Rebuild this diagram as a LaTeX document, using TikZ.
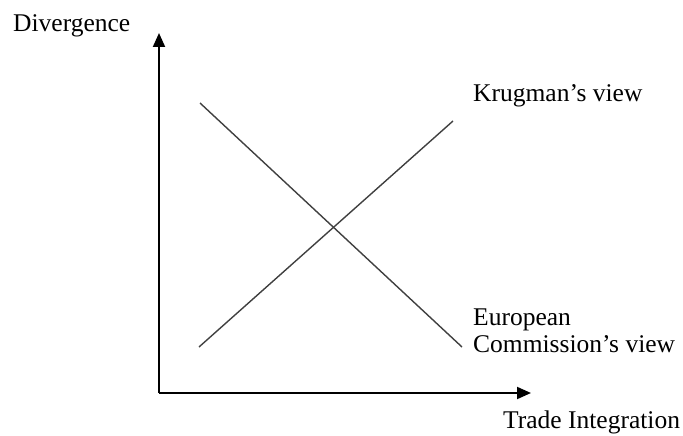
\documentclass[tikz,border=0pt]{standalone}
\usepackage{fontspec}
\setmainfont{Liberation Serif}
\usetikzlibrary{arrows.meta}
\begin{document}
\begin{tikzpicture}[x=1pt,y=-1pt,
  axis/.style={line width=2pt,-{Triangle[length=14pt,width=12pt]}},
  viewline/.style={line width=1.4pt,draw=black!75},
  lbl/.style={inner sep=0pt,anchor=base west,font=\fontsize{25.5}{30}\selectfont}]
\useasboundingbox (0,0) rectangle (683,436);
\coordinate (o) at (159,393);
\coordinate (ytip) at (159,33);
\coordinate (xtip) at (531,393);
\draw[axis] (o) -- (ytip);
\draw[axis] (o) -- (xtip);
\coordinate (a1) at (199,347);
\coordinate (a2) at (453,121);
\coordinate (d1) at (200,103);
\coordinate (d2) at (462,347);
\draw[viewline] (a1) -- (a2);
\draw[viewline] (d1) -- (d2);
\node[lbl] (div) at (13,32) {Divergence};
\node[lbl] (kr) at (473,102) {Krugman’s view};
\node[lbl] (eu) at (473,325) {European};
\node[lbl] (ec) at (473,352) {Commission’s view};
\node[lbl] (ti) at (503,428) {Trade Integration};
\end{tikzpicture}
\end{document}
